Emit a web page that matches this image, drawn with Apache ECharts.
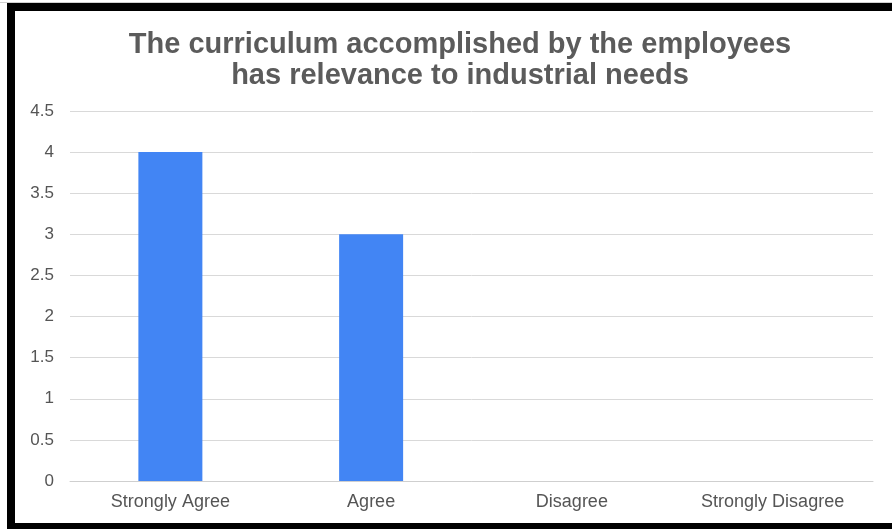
<!DOCTYPE html>
<html>
<head>
<meta charset="utf-8">
<script src="https://cdn.jsdelivr.net/npm/echarts@6/dist/echarts.min.js"></script>
<style>
html,body{margin:0;padding:0;background:#fff;}
#chart{width:892px;height:529px;}
</style>
</head>
<body>
<div id="chart"></div>
<script>
var titleLines = ['The curriculum accomplished by the employees', 'has relevance to industrial needs'];
var categories = ['Strongly Agree', 'Agree', 'Disagree', 'Strongly Disagree'];
var values = [4, 3, 0, 0];
var yMin = 0, yMax = 4.5, yStep = 0.5;

var chart = echarts.init(document.getElementById('chart'));
chart.setOption({
  backgroundColor: '#ffffff',
  animation: false,
  title: {
    text: titleLines.join('\n'),
    left: 455,
    textAlign: 'center',
    top: 24,
    textStyle: {
      fontFamily: 'Liberation Sans, Arial, sans-serif',
      fontWeight: 'bold',
      fontSize: 29,
      lineHeight: 31,
      color: '#5b5b5b'
    }
  },
  grid: { left: 70, right: 19, top: 110.9, bottom: 48, containLabel: false },
  xAxis: {
    type: 'category',
    data: categories,
    axisTick: { show: false },
    axisLine: { show: true, lineStyle: { color: '#cfcfcf', width: 1 } },
    axisLabel: {
      margin: 12,
      fontFamily: 'Liberation Sans, Arial, sans-serif',
      fontSize: 18,
      color: '#555555'
    }
  },
  yAxis: {
    type: 'value',
    min: yMin,
    max: yMax,
    interval: yStep,
    axisLine: { show: false },
    axisTick: { show: false },
    splitLine: { lineStyle: { color: '#d9d9d9', width: 1 } },
    axisLabel: {
      margin: 16,
      fontFamily: 'Liberation Sans, Arial, sans-serif',
      fontSize: 17,
      color: '#555555'
    }
  },
  series: [{
    type: 'bar',
    data: values,
    barWidth: 64,
    itemStyle: { color: '#4285f4' }
  }],
  graphic: [
    { type: 'rect', shape: { x: 0, y: 2, width: 892, height: 1 }, style: { fill: '#d0d0d0' }, z: 100 },
    { type: 'rect', shape: { x: 7, y: 3, width: 885, height: 8 }, style: { fill: '#000000' }, z: 100 },
    { type: 'rect', shape: { x: 7, y: 3, width: 8, height: 526 }, style: { fill: '#000000' }, z: 100 },
    { type: 'rect', shape: { x: 7, y: 523, width: 885, height: 6 }, style: { fill: '#000000' }, z: 100 }
  ]
});
</script>
</body>
</html>
